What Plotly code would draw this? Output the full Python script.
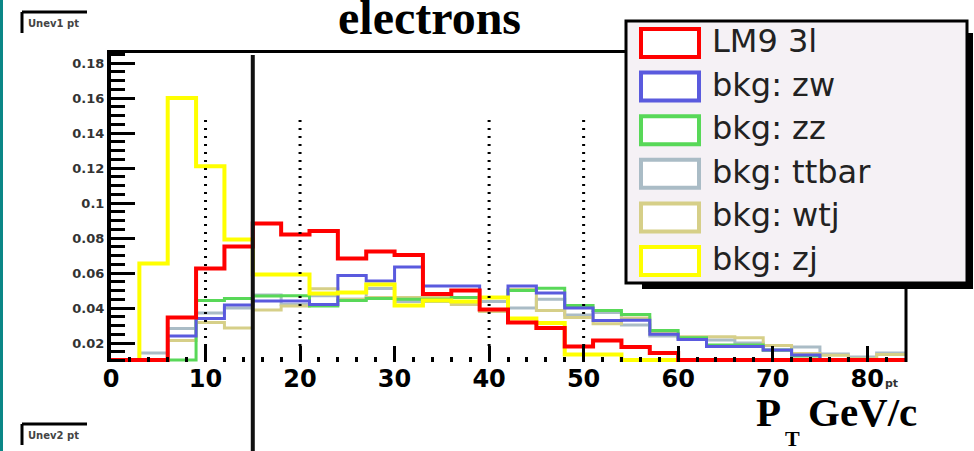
import numpy as np
import plotly.graph_objects as go

# ---------------- data ----------------
BIN_WIDTH = 3
X_MAX = 84
EDGES = list(range(0, X_MAX + 1, BIN_WIDTH))  # 29 edges, 28 bins

LM9_3L = [0, 0, 0.0346, 0.0626, 0.0751, 0.0883, 0.082, 0.084, 0.0683, 0.0723,
          0.0703, 0.048, 0.050, 0.0391, 0.0317, 0.0286, 0.018, 0.0214, 0.0177, 0.0143,
          0, 0, 0, 0, 0, 0, 0, 0]
BKG_ZW = [0, 0, 0.024, 0.034, 0.0417, 0.044, 0.044, 0.042, 0.0586, 0.0554,
          0.0634, 0.0526, 0.0526, 0.046, 0.0526, 0.0486, 0.040, 0.0329, 0.033, 0.025,
          0.022, 0.018, 0.018, 0.016, 0.0131, 0.008, 0.008, 0.008]
BKG_ZZ = [0, 0, 0.005, 0.0443, 0.0454, 0.0469, 0.047, 0.0411, 0.0443, 0.0454,
          0.045, 0.045, 0.046, 0.046, 0.050, 0.0513, 0.0414, 0.0386, 0.0363, 0.0271,
          0.023, 0.0189, 0.0189, 0.016, 0.0126, 0.008, 0.005, 0.005]
BKG_TTBAR = [0, 0.0143, 0.0283, 0.0371, 0.040, 0.0474, 0.042, 0.047, 0.045, 0.0511,
             0.0437, 0.0437, 0.046, 0.0437, 0.040, 0.045, 0.036, 0.0374, 0.0303, 0.024,
             0.022, 0.0217, 0.020, 0.0157, 0.0177, 0.0137, 0.012, 0.0143]
BKG_WTJ = [0, 0.005, 0.0214, 0.0317, 0.0286, 0.0389, 0.0411, 0.051, 0.045, 0.046,
           0.046, 0.046, 0.042, 0.038, 0.0506, 0.0386, 0.0346, 0.031, 0.0343, 0.0254,
           0.0236, 0.0236, 0.023, 0.0186, 0.014, 0.013, 0.011, 0.0134]
BKG_ZJ = [0, 0.0654, 0.160, 0.121, 0.0791, 0.0591, 0.0591, 0.0483, 0.0489, 0.0534,
          0.0414, 0.0443, 0.0437, 0.046, 0.034, 0.0314, 0.0134, 0.0134, 0.008, 0.008,
          0, 0, 0, 0, 0, 0, 0, 0]

SERIES_NAMES = ["LM9 3l", "bkg: zw", "bkg: zz", "bkg: ttbar", "bkg: wtj", "bkg: zj"]
SERIES_VALUES = [LM9_3L, BKG_ZW, BKG_ZZ, BKG_TTBAR, BKG_WTJ, BKG_ZJ]
SERIES_COLORS = ["#ff0000", "#5a5ade", "#58d858", "#aabcc6", "#d6cf88", "#ffff00"]
SERIES_WIDTHS = [4, 3, 3, 3, 3, 4]
DRAW_ORDER = [3, 4, 2, 1, 5, 0]

X_TICKS = [0, 10, 20, 30, 40, 50, 60, 70, 80]
Y_TICKS = [0.02, 0.04, 0.06, 0.08, 0.10, 0.12, 0.14, 0.16, 0.18]
Y_TICK_TEXT = ["0.02", "0.04", "0.06", "0.08", "0.1", "0.12", "0.14", "0.16", "0.18"]
GRID_X = [10, 20, 40, 50]
CUT_X = 15

TITLE = "electrons"

# ---------------- layout geometry (pixels) ----------------
W, H = 974, 451
PL, PR, PT, PB = 111, 905, 50, 362
PX_PER_Y = 1750.0
Y_ZERO_PX = 378.0
Y_MIN = (Y_ZERO_PX - PB) / PX_PER_Y
Y_MAX = (Y_ZERO_PX - PT) / PX_PER_Y
Y_FLOOR = (Y_ZERO_PX - 360) / PX_PER_Y


def pxx(px):
    return (px - PL) / (PR - PL)


def pxy(py):
    return (PB - py) / (PB - PT)


fig = go.Figure()

for i in DRAW_ORDER:
    vals = np.maximum(np.array(SERIES_VALUES[i], dtype=float), Y_FLOOR)
    yy = list(vals) + [vals[-1]]
    fig.add_trace(go.Scatter(
        x=EDGES, y=yy, mode="lines", line=dict(color=SERIES_COLORS[i], width=SERIES_WIDTHS[i], shape="hv"),
        name=SERIES_NAMES[i], showlegend=False, hoverinfo="skip"))

shapes = []
annotations = []

# teal left border
shapes.append(dict(type="rect", xref="paper", yref="paper", x0=pxx(0), x1=pxx(3), y0=pxy(H), y1=pxy(0),
                   line=dict(width=0), fillcolor="#0a8787", layer="above"))

# dotted vertical guides
for gx in GRID_X:
    shapes.append(dict(type="line", xref="x", yref="paper", x0=gx, x1=gx, y0=pxy(346), y1=pxy(117),
                       line=dict(color="black", width=3, dash="2px,6px"), layer="above"))

# frame top / right
shapes.append(dict(type="line", xref="paper", yref="paper", x0=pxx(PL - 2), x1=pxx(PR + 2), y0=pxy(51.5), y1=pxy(51.5),
                   line=dict(color="black", width=3), layer="above"))
shapes.append(dict(type="line", xref="paper", yref="paper", x0=pxx(906), x1=pxx(906), y0=pxy(PB), y1=pxy(50),
                   line=dict(color="black", width=3), layer="above"))

# cut line at pT = 15
cut_paper = CUT_X / X_MAX
shapes.append(dict(type="line", xref="paper", yref="paper", x0=cut_paper, x1=cut_paper, y0=pxy(H + 2), y1=pxy(55),
                   line=dict(color="#111111", width=4), layer="above"))

# stat-box remnants
for (bx, by, txt) in [(22, 12, "Unev1 pt"), (22, 424, "Unev2 pt")]:
    shapes.append(dict(type="line", xref="paper", yref="paper", x0=pxx(bx), x1=pxx(bx + 65), y0=pxy(by), y1=pxy(by),
                       line=dict(color="black", width=3), layer="above"))
    shapes.append(dict(type="line", xref="paper", yref="paper", x0=pxx(bx), x1=pxx(bx), y0=pxy(by), y1=pxy(by + 21),
                       line=dict(color="black", width=3), layer="above"))
    annotations.append(dict(text=txt, xref="paper", yref="paper", x=pxx(bx + 4), y=pxy(by + 11),
                            xanchor="left", yanchor="middle", showarrow=False,
                            font=dict(family="DejaVu Sans", size=10, color="#444444", weight="bold")))

# legend box (shadow + box)
LX0, LX1, LY0, LY1 = 626, 967, 21, 283
SH = 6
shapes.append(dict(type="rect", xref="paper", yref="paper", x0=pxx(LX0 + 16), x1=pxx(LX1 + SH), y0=pxy(LY1 + SH), y1=pxy(LY0 + 12),
                   line=dict(width=0), fillcolor="black", layer="above"))
shapes.append(dict(type="rect", xref="paper", yref="paper", x0=pxx(LX0), x1=pxx(LX1), y0=pxy(LY1), y1=pxy(LY0),
                   line=dict(color="black", width=3), fillcolor="#f5f1f5", layer="above"))
ROW0, ROW_STEP = 43, 43.6
for k in range(len(SERIES_NAMES)):
    cy = ROW0 + k * ROW_STEP
    shapes.append(dict(type="rect", xref="paper", yref="paper", x0=pxx(641), x1=pxx(699), y0=pxy(cy + 14), y1=pxy(cy - 14),
                       line=dict(color=SERIES_COLORS[k], width=4), fillcolor="white", layer="above"))
    annotations.append(dict(text=SERIES_NAMES[k], xref="paper", yref="paper", x=pxx(710), y=pxy(cy - 2),
                            xanchor="left", yanchor="middle", showarrow=False,
                            font=dict(family="DejaVu Sans", size=32, color="#222222")))

# title
annotations.append(dict(text=TITLE, xref="paper", yref="paper", x=pxx(429), y=pxy(18),
                        xanchor="center", yanchor="middle", showarrow=False,
                        font=dict(family="Liberation Serif", size=48, color="black", weight="bold")))

# x axis title  P_T GeV/c and small 'pt'
annotations.append(dict(text="P", xref="paper", yref="paper", x=pxx(754), y=pxy(412),
                        xanchor="left", yanchor="middle", showarrow=False,
                        font=dict(family="Liberation Serif", size=41, color="black", weight="bold")))
annotations.append(dict(text="T", xref="paper", yref="paper", x=pxx(783), y=pxy(438),
                        xanchor="left", yanchor="middle", showarrow=False,
                        font=dict(family="Liberation Serif", size=22, color="black", weight="bold")))
annotations.append(dict(text="GeV/c", xref="paper", yref="paper", x=pxx(806), y=pxy(412),
                        xanchor="left", yanchor="middle", showarrow=False,
                        font=dict(family="Liberation Serif", size=41, color="black", weight="bold")))
annotations.append(dict(text="pt", xref="paper", yref="paper", x=pxx(883), y=pxy(383),
                        xanchor="left", yanchor="middle", showarrow=False,
                        font=dict(family="DejaVu Sans", size=11, color="#333333", weight="bold")))

fig.update_layout(
    width=W, height=H,
    margin=dict(l=PL, r=W - PR, t=PT, b=H - PB, pad=0),
    paper_bgcolor="white", plot_bgcolor="white",
    showlegend=False,
    shapes=shapes, annotations=annotations,
    xaxis=dict(range=[0, X_MAX], tickvals=X_TICKS, ticktext=[str(v) for v in X_TICKS],
               ticks="inside", ticklen=16, tickwidth=3, tickcolor="black",
               minor=dict(dtick=2, ticks="inside", ticklen=5, tickwidth=3, tickcolor="black", showgrid=False),
               showgrid=False, zeroline=False, showline=False,
               tickfont=dict(family="DejaVu Sans", size=24, color="black", weight="bold")),
    yaxis=dict(range=[Y_MIN, Y_MAX], tickvals=Y_TICKS, ticktext=Y_TICK_TEXT,
               ticks="inside", ticklen=24, tickwidth=3, tickcolor="black",
               minor=dict(dtick=0.005, ticks="inside", ticklen=14, tickwidth=3, tickcolor="black", showgrid=False),
               showgrid=False, zeroline=False, showline=True, linewidth=4, linecolor="black",
               tickfont=dict(family="DejaVu Sans", size=13, color="#333333", weight="bold")),
)

fig.write_html("out.html")
